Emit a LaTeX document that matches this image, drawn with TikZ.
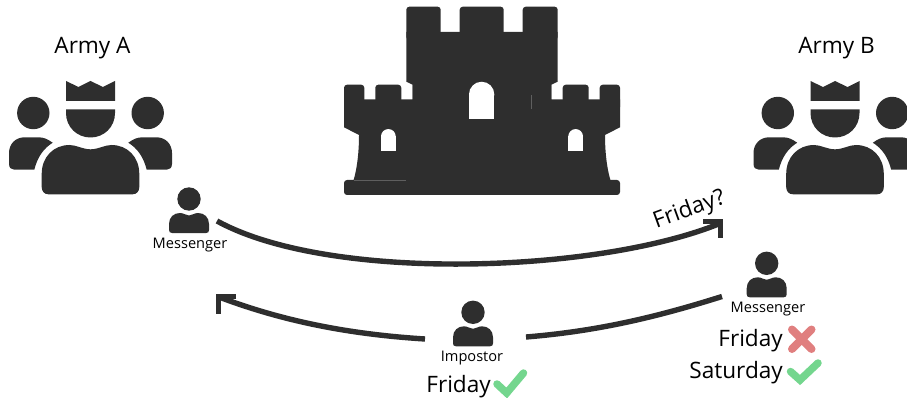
\documentclass[tikz,border=0pt]{standalone}
\usepackage{fontspec}
\setmainfont{Open Sans}
\definecolor{ink}{HTML}{2E2E2E}
\definecolor{crossred}{HTML}{E07F7F}
\definecolor{checkgreen}{HTML}{74D68E}
\tikzset{
  solid ink/.style={fill=ink,draw=none},
  merlon/.style={fill=ink,draw=none,rounded corners=3pt},
  title/.style={font=\fontsize{22.6}{24}\selectfont,text=black,inner sep=0pt},
  dayword/.style={font=\fontsize{22.6}{25}\selectfont,text=black,inner sep=0pt},
  small label/.style={font=\fontsize{14.6}{16}\selectfont,text=black,inner sep=0pt},
  link/.style={draw=ink,line width=5.4pt},
  head bar/.style={draw=ink,line width=5.4pt,line cap=butt},
  checkmark/.style={draw=checkgreen,line width=7.5pt,line cap=round,line join=miter},
  crossmark/.style={draw=crossred,line width=8pt,line cap=round},
}
\newcommand{\personicon}[2]{%
  \begin{scope}[shift={(#1,#2)}]
    \fill[solid ink] (0,0) circle (11.7pt);
    \fill[solid ink] (-17,34) .. controls (-19,34) and (-20,33) .. (-20,31)
      -- (-20,25) .. controls (-20,18) and (-15,14) .. (-9,14)
      .. controls (-5,14) and (-3,16.5) .. (0,16.5)
      .. controls (3,16.5) and (5,14) .. (9,14)
      .. controls (15,14) and (20,18) .. (20,25)
      -- (20,31) .. controls (20,33) and (19,34) .. (17,34) -- cycle;
  \end{scope}}
\newcommand{\armyicon}[1]{%
  \begin{scope}[shift={(#1,0)}]
    \fill[solid ink] (-24.5,81) -- (-12,87) -- (0,81) -- (12.5,87) -- (24.5,81) -- (24.5,101) -- (-24.5,101) -- cycle;
    \fill[solid ink] (-24.5,109.3) -- (24.5,109.3) -- (24.5,113)
      .. controls (24.5,127) and (13.5,137.5) .. (0,137.5)
      .. controls (-13.5,137.5) and (-24.5,127) .. (-24.5,113) -- cycle;
    \fill[solid ink] (-42,194.3) .. controls (-46.5,194.3) and (-48.8,191) .. (-48.8,187)
      -- (-48.8,174) .. controls (-48.8,157) and (-37,145) .. (-21,145)
      .. controls (-14,145) and (-8,149.3) .. (0,149.3)
      .. controls (8,149.3) and (14,145) .. (21,145)
      .. controls (37,145) and (48.8,157) .. (48.8,174)
      -- (48.8,187) .. controls (48.8,191) and (46.5,194.3) .. (42,194.3) -- cycle;
    \foreach \s in {-1,1}{
      \fill[solid ink] (\s*57.2,113) circle (16.2pt);
      \fill[solid ink] (\s*56.2,169.7) .. controls (\s*53,157) and (\s*47,148.5) .. (\s*37.8,142.7)
        .. controls (\s*43,139) and (\s*47,137.3) .. (\s*52,137.3)
        -- (\s*66,137.3) .. controls (\s*75,137.3) and (\s*81.5,144) .. (\s*81.5,153)
        -- (\s*81.5,164) .. controls (\s*81.5,168) and (\s*79,169.7) .. (\s*76,169.7) -- cycle;
    }
  \end{scope}}
\newcommand{\sidetower}[1]{%
  \begin{scope}[shift={(482,0)},xscale=#1]
    \fill[merlon] (-138,110) -- (-138,84.7) -- (-117.7,84.7) -- (-117.7,110) -- cycle;
    \fill[merlon] (-106.7,110) -- (-106.7,84.7) -- (-80.7,84.7) -- (-80.7,110) -- cycle;
    \fill[solid ink] (-69.3,84) -- (-69.3,99.3) -- (-138,99.3) -- (-138,127.3) -- (-123,135)
      .. controls (-123,150) and (-124.5,168) .. (-129,182) -- (-60,182) -- (-60,84) -- cycle;
    \fill[white] (-93.65,136.4) circle (7.35pt);
    \fill[white] (-101,136.4) rectangle (-86.3,150.7);
  \end{scope}}
\begin{document}
\begin{tikzpicture}[x=1pt,y=-1pt]
\useasboundingbox (0,0) rectangle (907,398);
% castle
\fill[merlon] (406.3,40) -- (406.3,6.7) -- (440.7,6.7) -- (440.7,40) -- cycle;
\fill[merlon] (459.7,40) -- (459.7,6.7) -- (503.7,6.7) -- (503.7,40) -- cycle;
\fill[merlon] (522.7,40) -- (522.7,6.7) -- (557.7,6.7) -- (557.7,40) -- cycle;
\fill[solid ink] (406.3,32) -- (557.7,32) -- (557.7,81.7) -- (551.3,84.7) -- (551.3,185) -- (412.7,185) -- (412.7,84.7) -- (406.3,81.7) -- cycle;
\sidetower{1}
\sidetower{-1}
\fill[merlon] (344,180) rectangle (620,195);
\fill[white] (481.65,94.4) circle (12.65pt);
\fill[white] (469,94.4) rectangle (494.3,119.3);
\draw[gray!60!ink,line width=0.4pt] (354,180.3) -- (406,180.3);
\draw[gray!60!ink,line width=0.4pt] (531.3,95) -- (531.3,109);
% armies
\armyicon{90.5}
\armyicon{835}
\node[title] (armya) at (92.5,48) {Army A};
\node[title] (armyb) at (836.5,48) {Army B};
% people
\personicon{189}{199}
\personicon{766.7}{263.3}
\personicon{473}{312.3}
\node[small label] (msga) at (190,245) {Messenger};
\node[small label] (msgb) at (768,309) {Messenger};
\node[small label] (imp) at (472,358) {Impostor};
% connector ends
\coordinate (topstart) at (217,221);
\coordinate (topend) at (721,223);
\coordinate (leftstart) at (425,339);
\coordinate (leftend) at (219,297);
\coordinate (rightstart) at (526,337);
\coordinate (rightend) at (722,296.5);
\draw[link] (topstart) .. controls (330,283) and (600,273) .. (topend);
\draw[link] (leftstart) .. controls (345,334) and (280,320) .. (leftend);
\draw[link] (rightstart) .. controls (600,331) and (660,316) .. (rightend);
\draw[head bar] (703,221.5) -- (720.5,221.5) -- (720.5,237.7);
\draw[head bar] (236,296.5) -- (218.5,296.5) -- (218.5,314);
% labels
\node[dayword,rotate=20] (fq) at (689.5,210) {Friday?};
\node[dayword,anchor=east] (d1) at (491,387) {Friday};
\node[dayword,anchor=east] (d2) at (783,341) {Friday};
\node[dayword,anchor=east] (d3) at (783,373) {Saturday};
% marks
\draw[checkmark] (497,384) -- (506.7,393) -- (523.5,373);
\draw[checkmark] (790.5,371.5) -- (800,380) -- (818,363);
\draw[crossmark] (792,329.5) -- (811.5,349);
\draw[crossmark] (811.5,329.5) -- (792,349);
\end{tikzpicture}
\end{document}
